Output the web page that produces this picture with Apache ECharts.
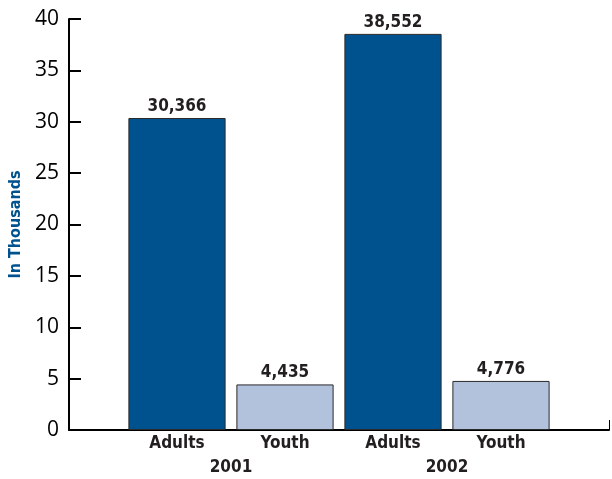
<!DOCTYPE html>
<html><head><meta charset="utf-8">
<script src="https://cdn.jsdelivr.net/npm/echarts@6/dist/echarts.min.js"></script>
<style>html,body{margin:0;padding:0;background:#fff}#c{width:612px;height:479px}</style>
</head><body><div id="c"></div>
<script>
const categories = ['', 'Adults', 'Youth', 'Adults', 'Youth', ''];
const values = [null, 30.366, 4.435, 38.552, 4.776, null];
const valueLabels = ['', '30,366', '4,435', '38,552', '4,776', ''];
const groupSlots = ['', '', '', '2001', '', '', '', '2002', '', '', ''];
const barColors = ['', '#00528f', '#b2c1dc', '#00528f', '#b2c1dc', ''];
const yTicks = [0, 5, 10, 15, 20, 25, 30, 35, 40];

const cond = '"Liberation Sans Narrow","DejaVu Sans Condensed",sans-serif';
const chart = echarts.init(document.getElementById('c'));
chart.setOption({
  animation: false,
  grid: { left: 68, right: 1, top: 19, bottom: 49 },
  xAxis: [{
    type: 'category', data: categories, boundaryGap: false,
    axisLine: { lineStyle: { color: '#000', width: 2 } },
    axisTick: { inside: true, length: 10, lineStyle: { color: '#000', width: 1 },
      interval: (i) => i === categories.length - 1 },
    axisLabel: { interval: 0, margin: 5, fontFamily: cond, fontWeight: 'bold', fontSize: 17, color: '#231f20' }
  }, {
    type: 'category', data: groupSlots, boundaryGap: false, position: 'bottom',
    axisLine: { show: false }, axisTick: { show: false },
    axisLabel: { interval: 0, margin: 29, fontFamily: cond, fontWeight: 'bold', fontSize: 17, color: '#231f20' }
  }],
  yAxis: {
    type: 'value', min: 0, max: 40, interval: 5,
    name: 'In Thousands', nameLocation: 'middle', nameGap: 45, nameRotate: 90,
    nameTextStyle: { fontFamily: cond, fontWeight: 'bold', fontSize: 16, color: '#00528f' },
    axisLine: { show: true, lineStyle: { color: '#000', width: 2 } },
    axisTick: { show: true, inside: true, length: 12, lineStyle: { color: '#000', width: 2 } },
    axisLabel: { margin: 10, fontFamily: '"Open Sans","DejaVu Sans",sans-serif', fontSize: 21, color: '#000',
      formatter: (v) => yTicks.includes(v) ? String(v) : '' },
    splitLine: { show: false }
  },
  series: [{
    type: 'bar', xAxisIndex: 0,
    barWidth: '90%',
    data: values.map((v, i) => ({ value: v, itemStyle: { color: barColors[i] || '#000' } })),
    itemStyle: { borderColor: '#2a2a2a', borderWidth: 1 },
    label: { show: true, position: 'top', distance: 3, fontFamily: cond, fontWeight: 'bold', fontSize: 17, color: '#231f20',
      formatter: (p) => valueLabels[p.dataIndex] }
  }]
});
</script></body></html>
